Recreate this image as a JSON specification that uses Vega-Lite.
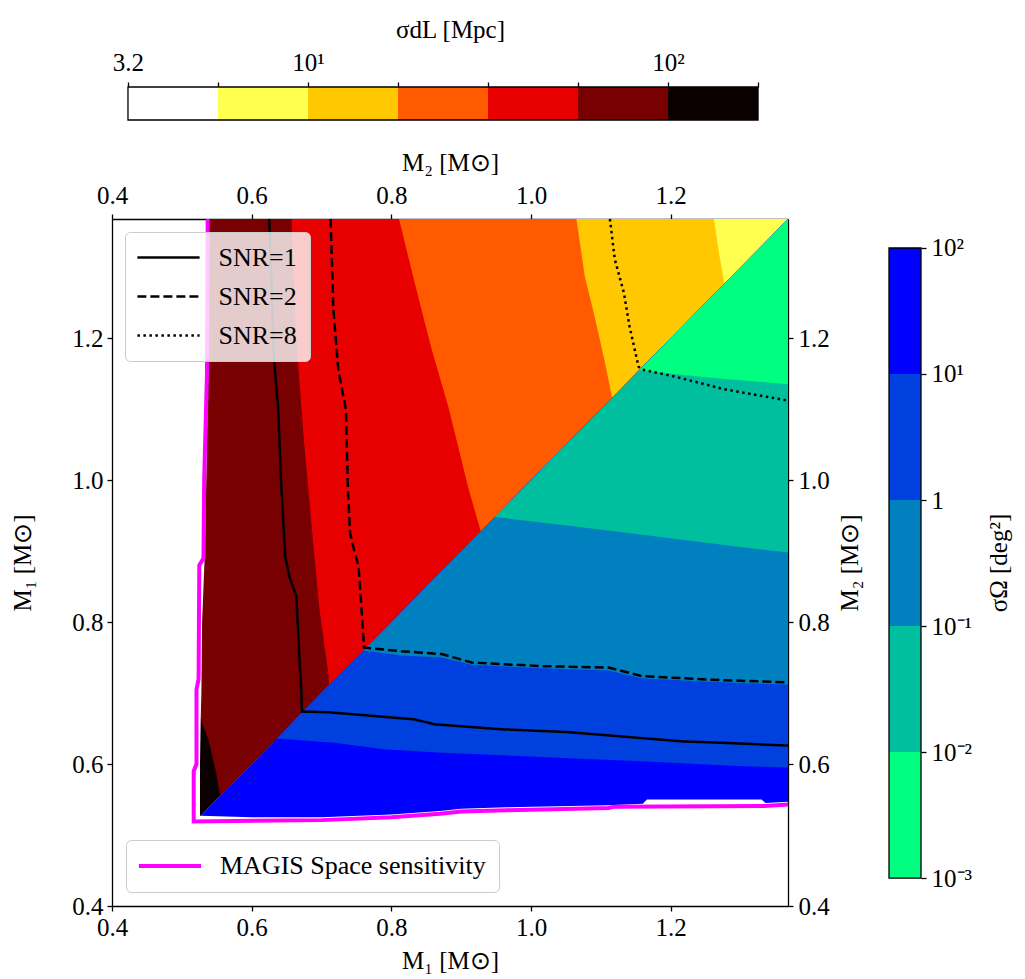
{
  "$schema": "https://vega.github.io/schema/vega-lite/v6.json",
  "background": "white",
  "padding": {"left": 10, "top": 17, "right": 5, "bottom": 5},
  "columns": 2,
  "bounds": "flush",
  "spacing": {"row": 99, "column": 101},
  "resolve": {
    "scale": {"stroke": "independent", "strokeDash": "independent"},
    "legend": {"stroke": "independent", "strokeDash": "independent", "fill": "independent"}
  },
  "config": {
    "view": {"stroke": null},
    "font": "Liberation Serif",
    "axis": {
      "labelFont": "Liberation Serif", "titleFont": "Liberation Serif",
      "labelFontSize": 25, "titleFontSize": 25, "titleFontWeight": "normal",
      "labelColor": "black", "titleColor": "black",
      "domainColor": "black", "tickColor": "black",
      "domainWidth": 1.3, "tickWidth": 1.3, "tickSize": 5,
      "grid": false, "labelFlush": false, "labelOverlap": false
    },
    "legend": {"labelFont": "Liberation Serif", "labelFontSize": 26, "labelColor": "black", "labelLimit": 0}
  },
  "datasets": {
    "upper": [
      {"band": "σdL 100–178", "y": 0.527, "xl": 0.526},
      {"band": "σdL 100–178", "y": 0.600, "xl": 0.526},
      {"band": "σdL 100–178", "y": 0.663, "xl": 0.527},
      {"band": "σdL 56–100", "y": 0.555, "xl": 0.555},
      {"band": "σdL 56–100", "y": 0.588, "xl": 0.549},
      {"band": "σdL 56–100", "y": 0.635, "xl": 0.538},
      {"band": "σdL 56–100", "y": 0.663, "xl": 0.527},
      {"band": "σdL 56–100", "y": 0.700, "xl": 0.528},
      {"band": "σdL 56–100", "y": 0.800, "xl": 0.529},
      {"band": "σdL 56–100", "y": 0.900, "xl": 0.533},
      {"band": "σdL 56–100", "y": 1.000, "xl": 0.535},
      {"band": "σdL 56–100", "y": 1.110, "xl": 0.537},
      {"band": "σdL 56–100", "y": 1.250, "xl": 0.538},
      {"band": "σdL 56–100", "y": 1.368, "xl": 0.539},
      {"band": "σdL 32–56", "y": 0.711, "xl": 0.711},
      {"band": "σdL 32–56", "y": 0.726, "xl": 0.710},
      {"band": "σdL 32–56", "y": 0.819, "xl": 0.697},
      {"band": "σdL 32–56", "y": 0.913, "xl": 0.688},
      {"band": "σdL 32–56", "y": 1.054, "xl": 0.675},
      {"band": "σdL 32–56", "y": 1.195, "xl": 0.664},
      {"band": "σdL 32–56", "y": 1.368, "xl": 0.657},
      {"band": "σdL 18–32", "y": 0.928, "xl": 0.928},
      {"band": "σdL 18–32", "y": 0.990, "xl": 0.910},
      {"band": "σdL 18–32", "y": 1.046, "xl": 0.896},
      {"band": "σdL 18–32", "y": 1.102, "xl": 0.882},
      {"band": "σdL 18–32", "y": 1.187, "xl": 0.857},
      {"band": "σdL 18–32", "y": 1.280, "xl": 0.833},
      {"band": "σdL 18–32", "y": 1.368, "xl": 0.811},
      {"band": "σdL 10–18", "y": 1.116, "xl": 1.116},
      {"band": "σdL 10–18", "y": 1.170, "xl": 1.105},
      {"band": "σdL 10–18", "y": 1.231, "xl": 1.091},
      {"band": "σdL 10–18", "y": 1.287, "xl": 1.077},
      {"band": "σdL 10–18", "y": 1.368, "xl": 1.065},
      {"band": "σdL 5.6–10", "y": 1.277, "xl": 1.277},
      {"band": "σdL 5.6–10", "y": 1.321, "xl": 1.269},
      {"band": "σdL 5.6–10", "y": 1.368, "xl": 1.262}
    ],
    "lower": [
      {"band": "σΩ 10–100", "x": 0.527, "yl": 0.527},
      {"band": "σΩ 10–100", "x": 0.600, "yl": 0.525},
      {"band": "σΩ 10–100", "x": 0.700, "yl": 0.525},
      {"band": "σΩ 10–100", "x": 0.800, "yl": 0.529},
      {"band": "σΩ 10–100", "x": 0.870, "yl": 0.534},
      {"band": "σΩ 10–100", "x": 0.900, "yl": 0.537},
      {"band": "σΩ 10–100", "x": 0.965, "yl": 0.539},
      {"band": "σΩ 10–100", "x": 1.111, "yl": 0.542},
      {"band": "σΩ 10–100", "x": 1.160, "yl": 0.544},
      {"band": "σΩ 10–100", "x": 1.166, "yl": 0.550},
      {"band": "σΩ 10–100", "x": 1.330, "yl": 0.550},
      {"band": "σΩ 10–100", "x": 1.336, "yl": 0.545},
      {"band": "σΩ 10–100", "x": 1.368, "yl": 0.547},
      {"band": "σΩ 1–10", "x": 0.636, "yl": 0.636},
      {"band": "σΩ 1–10", "x": 0.718, "yl": 0.630},
      {"band": "σΩ 1–10", "x": 0.790, "yl": 0.621},
      {"band": "σΩ 1–10", "x": 0.872, "yl": 0.616},
      {"band": "σΩ 1–10", "x": 1.015, "yl": 0.610},
      {"band": "σΩ 1–10", "x": 1.158, "yl": 0.604},
      {"band": "σΩ 1–10", "x": 1.302, "yl": 0.597},
      {"band": "σΩ 1–10", "x": 1.368, "yl": 0.595},
      {"band": "σΩ 0.1–1", "x": 0.760, "yl": 0.760},
      {"band": "σΩ 0.1–1", "x": 0.814, "yl": 0.753},
      {"band": "σΩ 0.1–1", "x": 0.872, "yl": 0.750},
      {"band": "σΩ 0.1–1", "x": 0.915, "yl": 0.740},
      {"band": "σΩ 0.1–1", "x": 1.015, "yl": 0.735},
      {"band": "σΩ 0.1–1", "x": 1.111, "yl": 0.732},
      {"band": "σΩ 0.1–1", "x": 1.158, "yl": 0.721},
      {"band": "σΩ 0.1–1", "x": 1.254, "yl": 0.716},
      {"band": "σΩ 0.1–1", "x": 1.368, "yl": 0.712},
      {"band": "σΩ 0.01–0.1", "x": 0.948, "yl": 0.948},
      {"band": "σΩ 0.01–0.1", "x": 1.000, "yl": 0.942},
      {"band": "σΩ 0.01–0.1", "x": 1.111, "yl": 0.929},
      {"band": "σΩ 0.01–0.1", "x": 1.200, "yl": 0.918},
      {"band": "σΩ 0.01–0.1", "x": 1.300, "yl": 0.906},
      {"band": "σΩ 0.01–0.1", "x": 1.368, "yl": 0.898},
      {"band": "σΩ 0.001–0.01", "x": 1.155, "yl": 1.155},
      {"band": "σΩ 0.001–0.01", "x": 1.250, "yl": 1.145},
      {"band": "σΩ 0.001–0.01", "x": 1.368, "yl": 1.135}
    ],
    "snr": [
      {"snr": "SNR=1", "ord": 1, "x": 0.625, "y": 1.368},
      {"snr": "SNR=1", "ord": 2, "x": 0.628, "y": 1.287},
      {"snr": "SNR=1", "ord": 3, "x": 0.632, "y": 1.170},
      {"snr": "SNR=1", "ord": 4, "x": 0.638, "y": 1.100},
      {"snr": "SNR=1", "ord": 5, "x": 0.642, "y": 1.000},
      {"snr": "SNR=1", "ord": 6, "x": 0.648, "y": 0.893},
      {"snr": "SNR=1", "ord": 7, "x": 0.654, "y": 0.864},
      {"snr": "SNR=1", "ord": 8, "x": 0.664, "y": 0.836},
      {"snr": "SNR=1", "ord": 9, "x": 0.667, "y": 0.775},
      {"snr": "SNR=1", "ord": 10, "x": 0.671, "y": 0.705},
      {"snr": "SNR=1", "ord": 11, "x": 0.672, "y": 0.674},
      {"snr": "SNR=1", "ord": 12, "x": 0.710, "y": 0.673},
      {"snr": "SNR=1", "ord": 13, "x": 0.833, "y": 0.663},
      {"snr": "SNR=1", "ord": 14, "x": 0.862, "y": 0.656},
      {"snr": "SNR=1", "ord": 15, "x": 0.958, "y": 0.649},
      {"snr": "SNR=1", "ord": 16, "x": 1.054, "y": 0.645},
      {"snr": "SNR=1", "ord": 17, "x": 1.140, "y": 0.638},
      {"snr": "SNR=1", "ord": 18, "x": 1.216, "y": 0.632},
      {"snr": "SNR=1", "ord": 19, "x": 1.273, "y": 0.630},
      {"snr": "SNR=1", "ord": 20, "x": 1.369, "y": 0.626},
      {"snr": "SNR=2", "ord": 1, "x": 0.713, "y": 1.368},
      {"snr": "SNR=2", "ord": 2, "x": 0.717, "y": 1.240},
      {"snr": "SNR=2", "ord": 3, "x": 0.724, "y": 1.156},
      {"snr": "SNR=2", "ord": 4, "x": 0.735, "y": 1.099},
      {"snr": "SNR=2", "ord": 5, "x": 0.738, "y": 0.982},
      {"snr": "SNR=2", "ord": 6, "x": 0.741, "y": 0.925},
      {"snr": "SNR=2", "ord": 7, "x": 0.747, "y": 0.900},
      {"snr": "SNR=2", "ord": 8, "x": 0.753, "y": 0.879},
      {"snr": "SNR=2", "ord": 9, "x": 0.757, "y": 0.822},
      {"snr": "SNR=2", "ord": 10, "x": 0.761, "y": 0.764},
      {"snr": "SNR=2", "ord": 11, "x": 0.814, "y": 0.759},
      {"snr": "SNR=2", "ord": 12, "x": 0.872, "y": 0.755},
      {"snr": "SNR=2", "ord": 13, "x": 0.915, "y": 0.743},
      {"snr": "SNR=2", "ord": 14, "x": 1.015, "y": 0.738},
      {"snr": "SNR=2", "ord": 15, "x": 1.111, "y": 0.736},
      {"snr": "SNR=2", "ord": 16, "x": 1.158, "y": 0.724},
      {"snr": "SNR=2", "ord": 17, "x": 1.254, "y": 0.719},
      {"snr": "SNR=2", "ord": 18, "x": 1.369, "y": 0.715},
      {"snr": "SNR=8", "ord": 1, "x": 1.113, "y": 1.368},
      {"snr": "SNR=8", "ord": 2, "x": 1.120, "y": 1.311},
      {"snr": "SNR=8", "ord": 3, "x": 1.133, "y": 1.264},
      {"snr": "SNR=8", "ord": 4, "x": 1.141, "y": 1.217},
      {"snr": "SNR=8", "ord": 5, "x": 1.154, "y": 1.160},
      {"snr": "SNR=8", "ord": 6, "x": 1.158, "y": 1.156},
      {"snr": "SNR=8", "ord": 7, "x": 1.206, "y": 1.146},
      {"snr": "SNR=8", "ord": 8, "x": 1.277, "y": 1.128},
      {"snr": "SNR=8", "ord": 9, "x": 1.369, "y": 1.112}
    ],
    "magis": [
      {"name": "MAGIS Space sensitivity", "ord": 1, "x": 0.537, "y": 1.368},
      {"name": "MAGIS Space sensitivity", "ord": 2, "x": 0.536, "y": 1.150},
      {"name": "MAGIS Space sensitivity", "ord": 3, "x": 0.532, "y": 1.000},
      {"name": "MAGIS Space sensitivity", "ord": 4, "x": 0.531, "y": 0.890},
      {"name": "MAGIS Space sensitivity", "ord": 5, "x": 0.525, "y": 0.880},
      {"name": "MAGIS Space sensitivity", "ord": 6, "x": 0.524, "y": 0.720},
      {"name": "MAGIS Space sensitivity", "ord": 7, "x": 0.521, "y": 0.705},
      {"name": "MAGIS Space sensitivity", "ord": 8, "x": 0.521, "y": 0.600},
      {"name": "MAGIS Space sensitivity", "ord": 9, "x": 0.517, "y": 0.590},
      {"name": "MAGIS Space sensitivity", "ord": 10, "x": 0.517, "y": 0.519},
      {"name": "MAGIS Space sensitivity", "ord": 11, "x": 0.700, "y": 0.521},
      {"name": "MAGIS Space sensitivity", "ord": 12, "x": 0.800, "y": 0.525},
      {"name": "MAGIS Space sensitivity", "ord": 13, "x": 0.870, "y": 0.530},
      {"name": "MAGIS Space sensitivity", "ord": 14, "x": 0.900, "y": 0.533},
      {"name": "MAGIS Space sensitivity", "ord": 15, "x": 0.965, "y": 0.535},
      {"name": "MAGIS Space sensitivity", "ord": 16, "x": 1.111, "y": 0.538},
      {"name": "MAGIS Space sensitivity", "ord": 17, "x": 1.120, "y": 0.540},
      {"name": "MAGIS Space sensitivity", "ord": 18, "x": 1.335, "y": 0.541},
      {"name": "MAGIS Space sensitivity", "ord": 19, "x": 1.369, "y": 0.543}
    ],
    "dlbar": [
      {"band": "σdL 3.2–5.6", "lo": 3.1623, "hi": 5.6234},
      {"band": "σdL 5.6–10", "lo": 5.6234, "hi": 10},
      {"band": "σdL 10–18", "lo": 10, "hi": 17.783},
      {"band": "σdL 18–32", "lo": 17.783, "hi": 31.623},
      {"band": "σdL 32–56", "lo": 31.623, "hi": 56.234},
      {"band": "σdL 56–100", "lo": 56.234, "hi": 100},
      {"band": "σdL 100–178", "lo": 100, "hi": 177.83}
    ],
    "omegabar": [
      {"band": "σΩ 0.001–0.01", "lo": 0.001, "hi": 0.01},
      {"band": "σΩ 0.01–0.1", "lo": 0.01, "hi": 0.1},
      {"band": "σΩ 0.1–1", "lo": 0.1, "hi": 1},
      {"band": "σΩ 1–10", "lo": 1, "hi": 10},
      {"band": "σΩ 10–100", "lo": 10, "hi": 100}
    ]
  },
  "concat": [
    {
      "width": 676, "height": 33,
      "layer": [
        {
          "data": {"name": "dlbar"},
          "mark": {"type": "rect"},
          "encoding": {
            "x": {"field": "lo", "type": "quantitative",
              "scale": {"type": "log", "domain": [2.855, 215.4], "nice": false},
              "axis": {"orient": "top", "domain": false, "values": [3.1623, 5.6234, 10, 17.783, 31.623, 56.234, 100, 177.83],
                "labelExpr": "datum.value < 4 ? '3.2' : (datum.value > 9.9 && datum.value < 10.1) ? '10¹' : (datum.value > 99 && datum.value < 101) ? '10²' : ''",
                "labelPadding": 7, "title": "σdL [Mpc]", "titlePadding": 8}},
            "x2": {"field": "hi"},
            "fill": {"field": "band", "type": "nominal", "legend": null,
              "scale": {"domain": ["σdL 3.2–5.6", "σdL 5.6–10", "σdL 10–18", "σdL 18–32", "σdL 32–56", "σdL 56–100", "σdL 100–178", "σΩ 0.001–0.01", "σΩ 0.01–0.1", "σΩ 0.1–1", "σΩ 1–10", "σΩ 10–100"],
                "range": ["#ffffff", "#ffff50", "#ffc800", "#ff5a00", "#e80000", "#780000", "#0b0000", "#00ff80", "#00bf9f", "#0080bf", "#0040df", "#0000ff"]}}
          }
        },
        {
          "data": {"name": "dlbar"},
          "transform": [{"aggregate": [{"op": "min", "field": "lo", "as": "lo"}, {"op": "max", "field": "hi", "as": "hi"}]}],
          "mark": {"type": "rect", "filled": false, "color": "black", "strokeWidth": 1.3},
          "encoding": {
            "x": {"field": "lo", "type": "quantitative", "scale": {"type": "log", "domain": [2.855, 215.4], "nice": false},
              "axis": {"orient": "top", "domain": false, "values": [3.1623, 5.6234, 10, 17.783, 31.623, 56.234, 100, 177.83],
                "labelExpr": "datum.value < 4 ? '3.2' : (datum.value > 9.9 && datum.value < 10.1) ? '10¹' : (datum.value > 99 && datum.value < 101) ? '10²' : ''",
                "labelPadding": 7, "title": "σdL [Mpc]", "titlePadding": 8}},
            "x2": {"field": "hi"}
          }
        }
      ]
    },
    {
      "width": 32, "height": 33,
      "data": {"values": [{"a": 0}]},
      "mark": {"type": "text", "text": ""}
    },
    {
      "width": 676, "height": 687,
      "resolve": {"axis": {"x": "independent", "y": "independent"}},
      "layer": [
        {
          "data": {"name": "upper"},
          "mark": {"type": "area", "orient": "horizontal", "clip": true},
          "encoding": {
            "y": {"field": "y", "type": "quantitative", "scale": {"domain": [0.4, 1.368], "nice": false, "zero": false},
              "axis": {"orient": "left", "values": [0.4, 0.6, 0.8, 1.0, 1.2], "format": ".1f", "labelPadding": 4, "title": "M₁ [M⊙]", "titlePadding": 36}},
            "x": {"field": "xl", "type": "quantitative", "stack": null, "scale": {"domain": [0.4, 1.368], "nice": false, "zero": false},
              "axis": {"orient": "bottom", "values": [0.4, 0.6, 0.8, 1.0, 1.2], "format": ".1f", "labelPadding": 4, "title": "M₁ [M⊙]", "titlePadding": 8}},
            "x2": {"field": "y"},
            "fill": {"field": "band", "type": "nominal", "legend": null,
              "scale": {"domain": ["σdL 3.2–5.6", "σdL 5.6–10", "σdL 10–18", "σdL 18–32", "σdL 32–56", "σdL 56–100", "σdL 100–178", "σΩ 0.001–0.01", "σΩ 0.01–0.1", "σΩ 0.1–1", "σΩ 1–10", "σΩ 10–100"],
                "range": ["#ffffff", "#ffff50", "#ffc800", "#ff5a00", "#e80000", "#780000", "#0b0000", "#00ff80", "#00bf9f", "#0080bf", "#0040df", "#0000ff"]}}
          }
        },
        {
          "data": {"name": "lower"},
          "mark": {"type": "area", "orient": "vertical", "clip": true},
          "encoding": {
            "x": {"field": "x", "type": "quantitative", "scale": {"domain": [0.4, 1.368], "nice": false, "zero": false}, "axis": null},
            "y": {"field": "yl", "type": "quantitative", "stack": null, "scale": {"domain": [0.4, 1.368], "nice": false, "zero": false}, "axis": null},
            "y2": {"field": "x"},
            "fill": {"field": "band", "type": "nominal", "legend": null,
              "scale": {"domain": ["σdL 3.2–5.6", "σdL 5.6–10", "σdL 10–18", "σdL 18–32", "σdL 32–56", "σdL 56–100", "σdL 100–178", "σΩ 0.001–0.01", "σΩ 0.01–0.1", "σΩ 0.1–1", "σΩ 1–10", "σΩ 10–100"],
                "range": ["#ffffff", "#ffff50", "#ffc800", "#ff5a00", "#e80000", "#780000", "#0b0000", "#00ff80", "#00bf9f", "#0080bf", "#0040df", "#0000ff"]}}
          }
        },
        {
          "data": {"name": "snr"},
          "mark": {"type": "line", "clip": true, "color": "black", "strokeWidth": 2.5},
          "encoding": {
            "x": {"field": "x", "type": "quantitative", "scale": {"domain": [0.4, 1.368], "nice": false, "zero": false}, "axis": null},
            "y": {"field": "y", "type": "quantitative", "scale": {"domain": [0.4, 1.368], "nice": false, "zero": false}, "axis": null},
            "order": {"field": "ord", "type": "quantitative"},
            "strokeDash": {"field": "snr", "type": "nominal",
              "scale": {"domain": ["SNR=1", "SNR=2", "SNR=8"], "range": [[1, 0], [9, 4], [2.5, 3.5]]},
              "legend": {"title": null, "orient": "top-left", "offset": 13, "fillColor": "rgba(255,255,255,0.8)", "strokeColor": "#cccccc", "cornerRadius": 5, "padding": 12.5,
                "labelFont": "Liberation Serif", "labelFontSize": 26, "labelColor": "black", "labelLimit": 0,
                "symbolType": "M-3,0H3", "symbolSize": 430, "symbolStrokeWidth": 2.5, "symbolStrokeColor": "black",
                "symbolOffset": 18, "labelOffset": 37, "rowPadding": 13}}
          }
        },
        {
          "data": {"name": "magis"},
          "mark": {"type": "line", "clip": true, "strokeWidth": 4},
          "encoding": {
            "x": {"field": "x", "type": "quantitative", "scale": {"domain": [0.4, 1.368], "nice": false, "zero": false},
              "axis": {"orient": "top", "values": [0.4, 0.6, 0.8, 1.0, 1.2], "format": ".1f", "labelPadding": 6, "title": "M₂ [M⊙]", "titlePadding": 8}},
            "y": {"field": "y", "type": "quantitative", "scale": {"domain": [0.4, 1.368], "nice": false, "zero": false},
              "axis": {"orient": "right", "values": [0.4, 0.6, 0.8, 1.0, 1.2], "format": ".1f", "labelPadding": 5, "title": "M₂ [M⊙]", "titleAngle": 270, "titleBaseline": "top", "titlePadding": 8}},
            "order": {"field": "ord", "type": "quantitative"},
            "stroke": {"field": "name", "type": "nominal",
              "scale": {"domain": ["MAGIS Space sensitivity"], "range": ["#ff00ff"]},
              "legend": {"title": null, "orient": "bottom-left", "offset": 14, "fillColor": "rgba(255,255,255,0.8)", "strokeColor": "#cccccc", "cornerRadius": 5, "padding": 13,
                "labelFont": "Liberation Serif", "labelFontSize": 26, "labelColor": "black", "labelLimit": 0,
                "symbolType": "M-3,0H3", "symbolSize": 430, "symbolStrokeWidth": 4,
                "symbolOffset": 18, "labelOffset": 37}}
          }
        }
      ]
    },
    {
      "width": 32, "height": 687,
      "layer": [
        {
          "data": {"name": "omegabar"},
          "mark": {"type": "rect"},
          "encoding": {
            "y": {"field": "lo", "type": "quantitative",
              "scale": {"type": "log", "domain": [0.0006, 169.8], "nice": false},
              "axis": {"orient": "right", "domain": false, "values": [0.001, 0.01, 0.1, 1, 10, 100],
                "labelExpr": "datum.value < 0.005 ? '10⁻³' : datum.value < 0.05 ? '10⁻²' : datum.value < 0.5 ? '10⁻¹' : datum.value < 5 ? '1' : datum.value < 50 ? '10¹' : '10²'",
                "labelPadding": 5, "title": "σΩ [deg²]", "titleAngle": 270, "titleBaseline": "top", "titlePadding": 15}},
            "y2": {"field": "hi"},
            "fill": {"field": "band", "type": "nominal", "legend": null,
              "scale": {"domain": ["σdL 3.2–5.6", "σdL 5.6–10", "σdL 10–18", "σdL 18–32", "σdL 32–56", "σdL 56–100", "σdL 100–178", "σΩ 0.001–0.01", "σΩ 0.01–0.1", "σΩ 0.1–1", "σΩ 1–10", "σΩ 10–100"],
                "range": ["#ffffff", "#ffff50", "#ffc800", "#ff5a00", "#e80000", "#780000", "#0b0000", "#00ff80", "#00bf9f", "#0080bf", "#0040df", "#0000ff"]}}
          }
        },
        {
          "data": {"name": "omegabar"},
          "transform": [{"aggregate": [{"op": "min", "field": "lo", "as": "lo"}, {"op": "max", "field": "hi", "as": "hi"}]}],
          "mark": {"type": "rect", "filled": false, "color": "black", "strokeWidth": 1.3},
          "encoding": {
            "y": {"field": "lo", "type": "quantitative", "scale": {"type": "log", "domain": [0.0006, 169.8], "nice": false},
              "axis": {"orient": "right", "domain": false, "values": [0.001, 0.01, 0.1, 1, 10, 100],
                "labelExpr": "datum.value < 0.005 ? '10⁻³' : datum.value < 0.05 ? '10⁻²' : datum.value < 0.5 ? '10⁻¹' : datum.value < 5 ? '1' : datum.value < 50 ? '10¹' : '10²'",
                "labelPadding": 5, "title": "σΩ [deg²]", "titleAngle": 270, "titleBaseline": "top", "titlePadding": 15}},
            "y2": {"field": "hi"}
          }
        }
      ]
    }
  ]
}
